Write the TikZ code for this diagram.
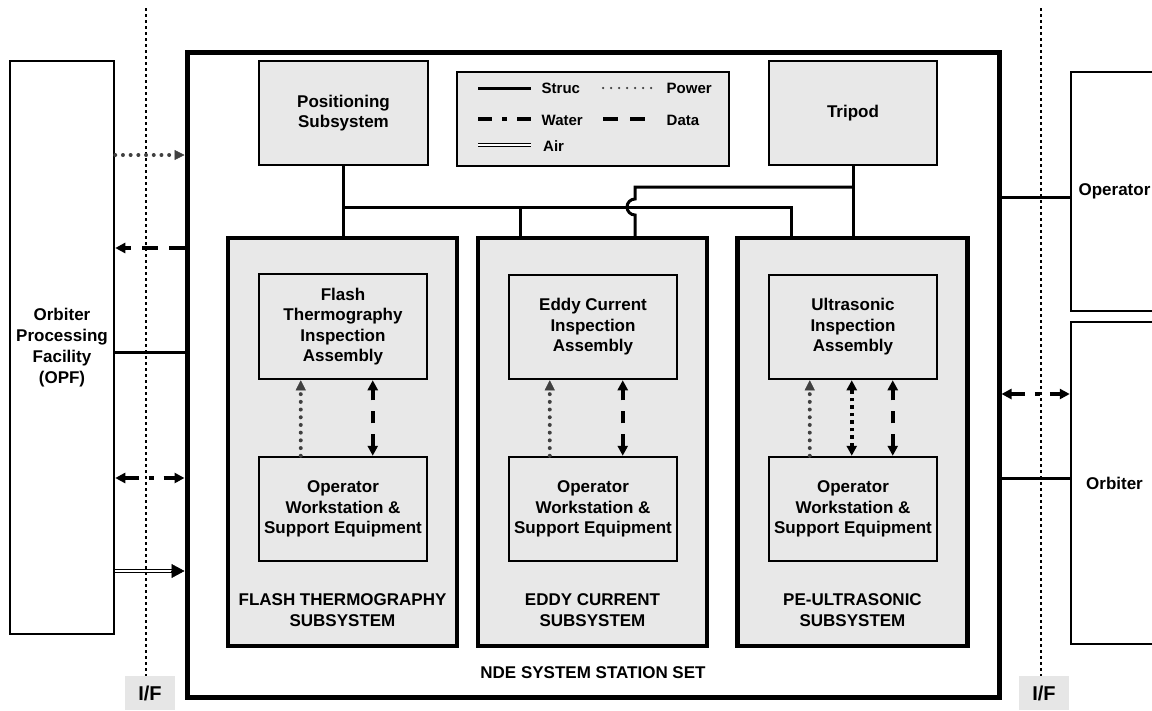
\documentclass[tikz,border=0pt]{standalone}
\usepackage{fontspec}
\setmainfont{Liberation Sans}
\usetikzlibrary{arrows.meta}
\definecolor{boxgray}{HTML}{E8E8E8}
\definecolor{ifgray}{HTML}{E6E6E6}
\definecolor{pgray}{HTML}{404040}
\tikzset{
  lbl/.style={font=\bfseries\fontsize{17}{20.5}\selectfont, align=center, inner sep=0pt},
  blk/.style={draw, line width=2.5pt, fill=boxgray, lbl},
  ext/.style={draw, line width=2.5pt, fill=white, lbl},
  frame/.style={draw, line width=5pt, fill=white, inner sep=0pt},
  subbox/.style={draw, line width=4.5pt, fill=boxgray, inner sep=0pt},
  legbox/.style={draw, line width=2pt, fill=boxgray, inner sep=0pt},
  legtxt/.style={font=\bfseries\fontsize{15}{18}\selectfont, inner sep=0pt, anchor=base west},
  ifbox/.style={fill=ifgray, inner sep=0pt, minimum width=50pt, minimum height=34pt, font=\bfseries\fontsize{20}{24}\selectfont},
  ifline/.style={line width=1.2pt, dash pattern=on 3pt off 3pt},
  struc/.style={line width=3pt},
  tipone/.style={-{Triangle[length=10pt,width=10pt]}},
  tipboth/.style={{Triangle[length=10pt,width=10pt]}-{Triangle[length=10pt,width=10pt]}},
  power/.style={draw=pgray, line width=4pt, line cap=round, dash pattern=on 0pt off 7.7pt,
                -{Triangle[length=10pt,width=10pt,fill=pgray,line cap=butt,line width=0.5pt]}},
  datal/.style={line width=3.5pt, dash pattern=on 16pt off 11pt},
  datas/.style={line width=3.5pt, dash pattern=on 12pt off 11pt},
  water/.style={line width=3.5pt, dash pattern=on 14pt off 10pt on 5pt off 10pt},
  sqdot/.style={line width=3.5pt, dash pattern=on 3.5pt off 4pt},
  air/.style={double, line width=1.3pt, double distance=2.2pt},
  airtip/.style={line width=0.5pt, -{Triangle[length=13pt,width=14pt]}},
}
\begin{document}
\begin{tikzpicture}[x=1pt,y=-1pt]
\useasboundingbox (0,0) rectangle (1152,710);

% interface lines and labels
\node[ifbox] (ifl) at (150,693) {I/F};
\node[ifbox] (ifr) at (1044,693) {I/F};
\coordinate (iflt) at (146,8);
\coordinate (ifrt) at (1041,8);
\draw[ifline] (iflt) -- (iflt |- ifl.north);
\draw[ifline] (ifrt) -- (ifrt |- ifr.north);

% main frame and external boxes
\node[frame, minimum width=812pt, minimum height=645pt] (outer) at (593,374.5) {};
\node[ext, minimum width=104pt, minimum height=573pt, font=\bfseries\fontsize{17}{21}\selectfont] (opf) at (62,347.5) {Orbiter\\Processing\\Facility\\(OPF)};
\node[ext, minimum width=87pt, minimum height=239pt] (oper) at (1114.5,191.5) {Operator};
\node[ext, minimum width=87pt, minimum height=322pt] (orb) at (1114.5,483) {Orbiter};

% top row
\node[blk, minimum width=169pt, minimum height=104pt] (pos) at (343.5,113) {Positioning\\Subsystem};
\node[legbox, minimum width=272pt, minimum height=94pt] (leg) at (593,119) {};
\node[blk, minimum width=168pt, minimum height=104pt] (tri) at (853,113) {Tripod};

% subsystems
\node[subbox, minimum width=229pt, minimum height=408pt] (fsub) at (342.5,442) {};
\node[subbox, minimum width=229pt, minimum height=408pt] (esub) at (592.5,442) {};
\node[subbox, minimum width=230pt, minimum height=408pt] (usub) at (852.5,442) {};

\node[blk, minimum width=168pt, minimum height=105pt] (fia) at (343,326.5) {Flash\\Thermography\\Inspection\\Assembly};
\node[blk, minimum width=168pt, minimum height=104pt] (eia) at (593,327) {Eddy Current\\Inspection\\Assembly};
\node[blk, minimum width=168pt, minimum height=104pt] (uia) at (853,327) {Ultrasonic\\Inspection\\Assembly};

\node[blk, minimum width=168pt, minimum height=104pt] (fws) at (343,509) {Operator\\Workstation \&\\Support Equipment};
\node[blk, minimum width=168pt, minimum height=104pt] (ews) at (593,509) {Operator\\Workstation \&\\Support Equipment};
\node[blk, minimum width=168pt, minimum height=104pt] (uws) at (853,509) {Operator\\Workstation \&\\Support Equipment};

\node[lbl] (flbl) at (342.5,610) {FLASH THERMOGRAPHY\\SUBSYSTEM};
\node[lbl] (elbl) at (592.5,610) {EDDY CURRENT\\SUBSYSTEM};
\node[lbl] (ulbl) at (852.5,610) {PE-ULTRASONIC\\SUBSYSTEM};
\node[lbl] (nde) at (593,673) {NDE SYSTEM STATION SET};

% structural bus
\draw[struc] (pos.south) -- (pos.south |- fsub.north);
\draw[struc] (pos.south |- 0,207) -- (791,207) -- (usub.north -| 791,0);
\draw[struc] (520,207) -- (esub.north -| 520,0);
\draw[struc] (tri.south) -- (tri.south |- usub.north);
\draw[struc] (tri.south |- 0,187) -- (635,187) -- (635,199) arc[start angle=270, end angle=90, radius=8] -- (esub.north -| 635,0);

% inner links
\draw[power] ([xshift=43pt]fws.north west) -- ([xshift=43pt]fia.south west);
\draw[datas, tipboth] ([xshift=115pt]fws.north west) -- ([xshift=115pt]fia.south west);
\draw[power] ([xshift=42pt]ews.north west) -- ([xshift=42pt]eia.south west);
\draw[datas, tipboth] ([xshift=115pt]ews.north west) -- ([xshift=115pt]eia.south west);
\draw[power] ([xshift=42pt]uws.north west) -- ([xshift=42pt]uia.south west);
\draw[sqdot, tipboth] ([xshift=84pt]uws.north west) -- ([xshift=84pt]uia.south west);
\draw[datas, tipboth] ([xshift=125pt]uws.north west) -- ([xshift=125pt]uia.south west);

% left interfaces
\draw[power] (opf.east |- 0,155) -- (outer.west |- 0,155);
\draw[datal, tipone] (outer.west |- 0,248) -- (opf.east |- 0,248);
\draw[struc] (opf.east |- 0,352) -- (outer.west |- 0,352);
\draw[water, tipboth] (opf.east |- 0,478) -- (outer.west |- 0,478);
\draw[air, shorten >=12pt] (opf.east |- 0,571) -- (outer.west |- 0,571);
\draw[airtip] ([xshift=-14pt]outer.west |- 0,571) -- (outer.west |- 0,571);

% right interfaces
\draw[struc] (outer.east |- 0,197) -- (oper.west |- 0,197);
\draw[water, tipboth] (outer.east |- 0,394) -- (orb.west |- 0,394);
\draw[struc] (outer.east |- 0,478) -- (orb.west |- 0,478);

% legend
\draw[struc] (478,88) -- (531,88);
\draw[water] (478,119) -- (531,119);
\draw[air] (478,145) -- (531,145);
\draw[line width=2.5pt, line cap=round, dash pattern=on 0pt off 8pt, draw=pgray] (603,88) -- (652,88);
\draw[line width=3.5pt, dash pattern=on 15pt off 12pt] (603,119) -- (645,119);
\node[legtxt] (ls) at (541.5,93.3) {Struc};
\node[legtxt] (lp) at (666.5,93.3) {Power};
\node[legtxt] (lw) at (541.5,125) {Water};
\node[legtxt] (ld) at (666.5,125) {Data};
\node[legtxt] (la) at (543,151.5) {Air};
\end{tikzpicture}
\end{document}
